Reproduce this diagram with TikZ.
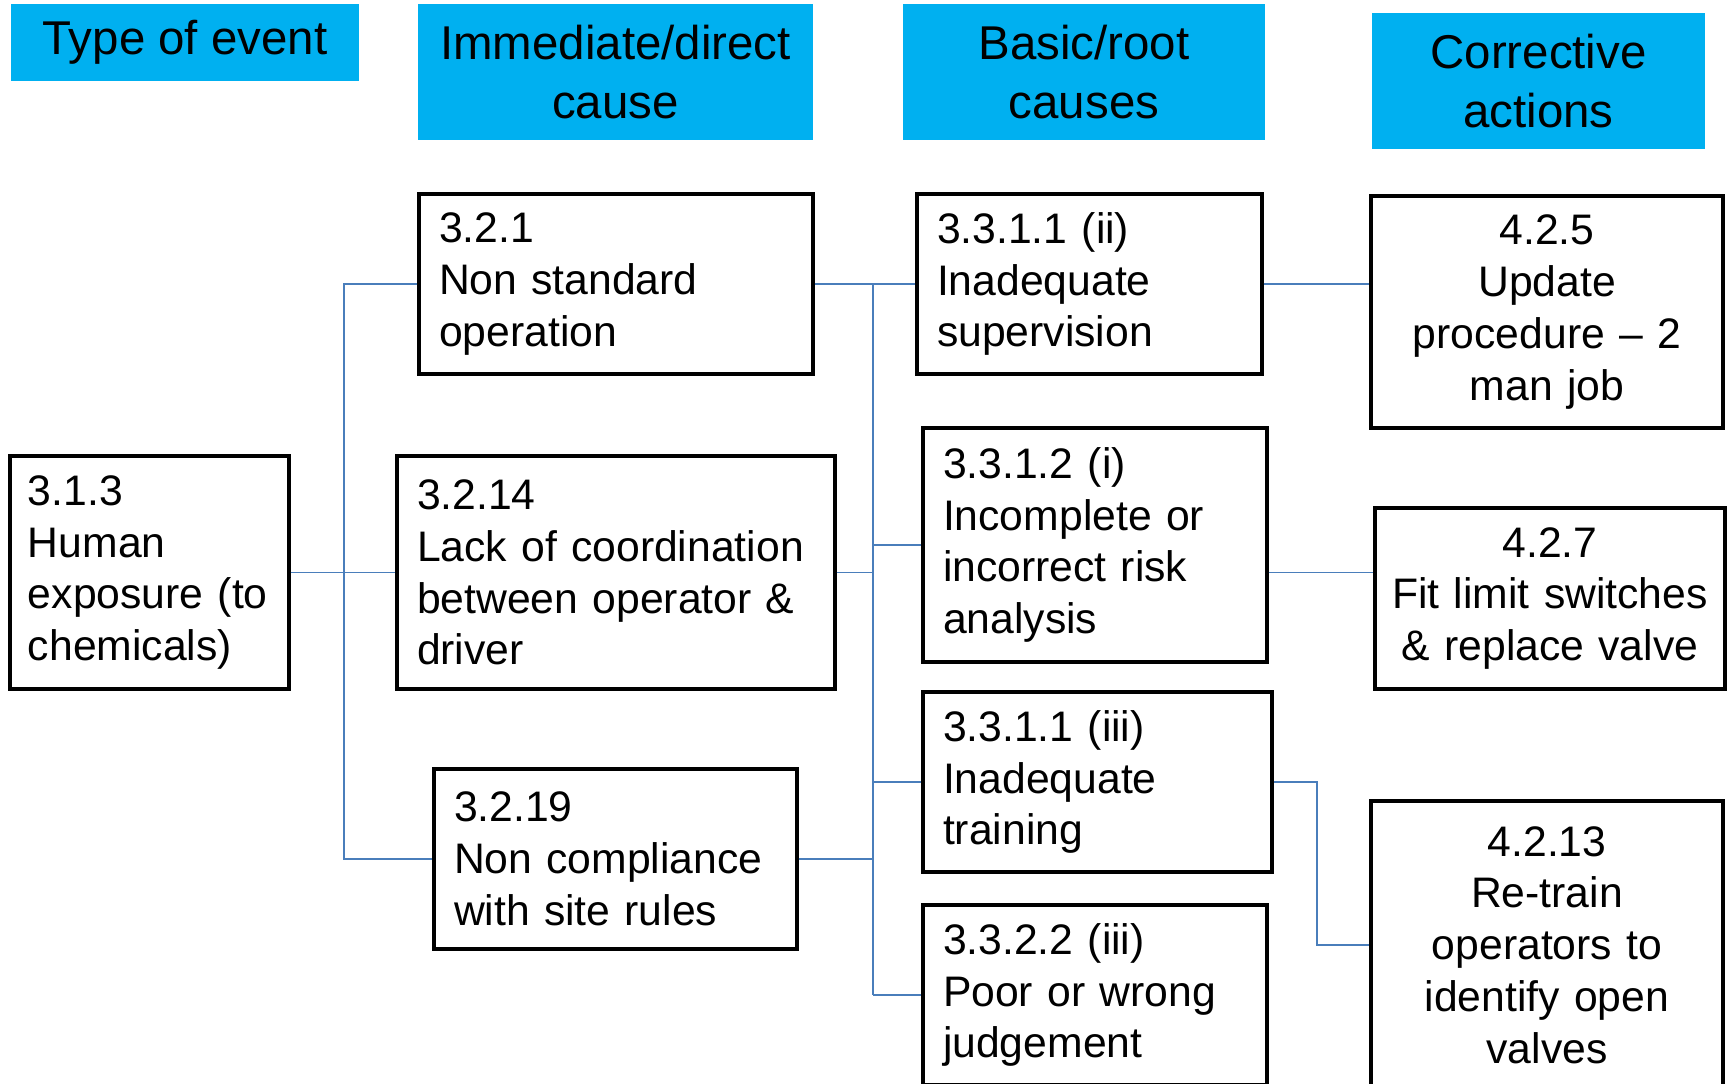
\documentclass[tikz,border=0pt]{standalone}
\usepackage{fontspec}
\setmainfont{Liberation Sans}
\usetikzlibrary{positioning}

\definecolor{hdrblue}{HTML}{00B0F0}
\definecolor{linkblue}{HTML}{4A7EBB}

% one pixel of the slide
\newdimen\pxu
\pxu=0.02cm

\newcommand{\hdrfont}{\fontsize{27}{34}\selectfont}
\newcommand{\boxfont}{\fontsize{24.3}{29.5}\selectfont}

\begin{document}
\begin{tikzpicture}[x=0.02cm,y=-0.02cm,
		hdr/.style={fill=hdrblue,align=center,font=\hdrfont,inner sep=0pt},
		cbox/.style={draw,line width=1.9pt,align=left,font=\boxfont,inner xsep=20\pxu,inner ysep=0pt},
		abox/.style={cbox,align=center,inner xsep=8\pxu},
		link/.style={draw=linkblue,line width=0.75pt}]
		\useasboundingbox (0,0) rectangle (1727,1084);
		\clip (0,0) rectangle (1727,1084);
		
		% column headers
		\foreach \myname/\x/\y/\w/\h/\mytext in {
			hType/185/42.5/348/77/{Type of event},
			hImm/615.5/72/395/136/{Immediate/direct\\cause},
			hBasic/1084/72/362/136/{Basic/root\\causes},
			hCorr/1538.5/81/333/136/{Corrective\\actions}} {
			\node[hdr,minimum width=\w\pxu,minimum height=\h\pxu] (\myname) at (\x,\y) {\mytext};
		}
		
		% type of event and immediate causes
		\node[cbox,inner xsep=18\pxu,text width=243\pxu,minimum height=233\pxu] (e313) at (149.5,572.5)
			{3.1.3\\Human\\exposure (to\\chemicals)};
		\node[cbox,text width=354\pxu,minimum height=180\pxu] (d321) at (616,284)
			{3.2.1\\Non standard\\operation};
		\node[cbox,text width=398\pxu,minimum height=233\pxu] (d3214) at (616,572.5)
			{3.2.14\\Lack of coordination\\between operator \&\\driver};
		\node[cbox,text width=323\pxu,minimum height=180\pxu] (d3219) at (615.5,859)
			{3.2.19\\Non compliance\\with site rules};
		
		% basic/root causes
		\node[cbox,text width=305\pxu,minimum height=180\pxu] (r1) at (1089.5,284)
			{3.3.1.1 (ii)\\Inadequate\\supervision};
		\node[cbox,text width=304\pxu,minimum height=234\pxu] (r2) at (1095,545)
			{3.3.1.2 (i)\\Incomplete or\\incorrect risk\\analysis};
		\node[cbox,text width=309\pxu,minimum height=180\pxu] (r3) at (1097.5,782)
			{3.3.1.1 (iii)\\Inadequate\\training};
		\node[cbox,text width=304\pxu,minimum height=180\pxu] (r4) at (1095,995)
			{3.3.2.2 (iii)\\Poor or wrong\\judgement};
		
		% corrective actions
		\node[abox,text width=336\pxu,minimum height=232\pxu] (a425) at (1547,312)
			{4.2.5\\Update\\procedure – 2\\man job};
		\node[abox,text width=334\pxu,minimum height=181\pxu] (a427) at (1550,598.5)
			{4.2.7\\Fit limit switches\\\& replace valve};
		\node[abox,text width=336\pxu,minimum height=288\pxu] (a4213) at (1547,945)
			{4.2.13\\Re-train\\operators to\\identify open\\valves};
		
		% junction points of the trees
		\coordinate (jl) at (344,572.5);
		\coordinate (jr) at (873,572.5);
		\coordinate (bend) at (1317,782);
		
		% event to immediate causes
		\draw[link] (e313.east) -- (d3214.west);
		\draw[link] (d321.west) -| (jl) |- (d3219.west);
		
		% immediate causes to root causes
		\draw[link] (d321.east) -- (r1.west);
		\draw[link] (d3214.east) -- (jr);
		\draw[link] (d3219.east) -- (d3219.east -| jr);
		\draw[link] (jr |- r1.west) -- (jr |- r4.west);
		\foreach \mynode in {r2,r3,r4} {
			\draw[link] (jr |- \mynode.west) -- (\mynode.west);
		}
		
		% root causes to actions
		\draw[link] (r1.east) -- (a425.west |- r1.east);
		\draw[link] (r2.east |- e313.east) -- (a427.west |- e313.east);
		\draw[link] (r3.east) -- (bend) |- (a4213.west);
\end{tikzpicture}
\end{document}
